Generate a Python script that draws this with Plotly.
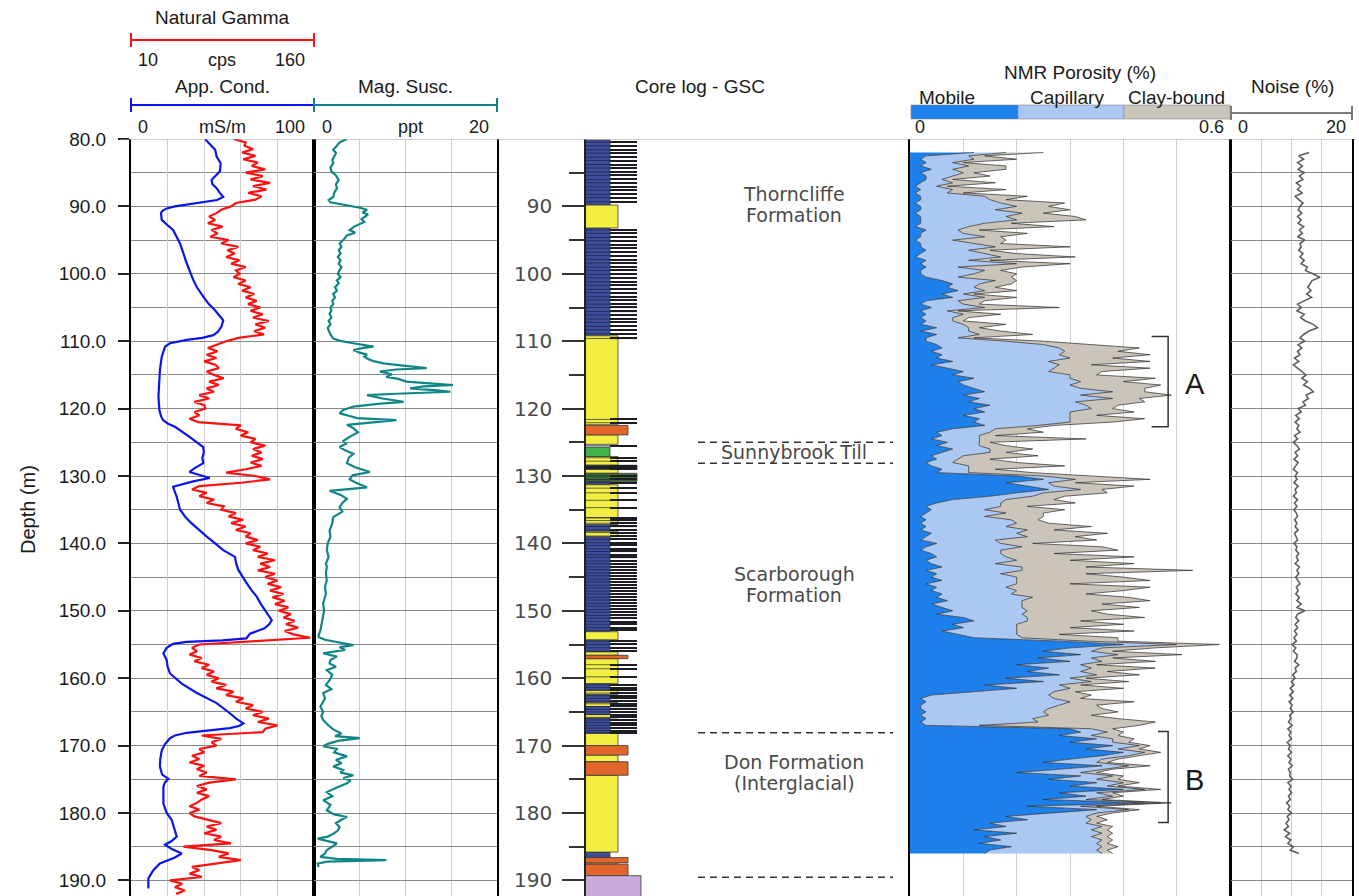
import plotly.graph_objects as go

# ---------------- DATA ----------------
# Apparent conductivity (mS/m) vs depth (m)
cond_log = [
    (80.0, 40.4), (81.0, 44), (81.6, 46), (82.6, 46.8), (83.6, 49), (84.8, 48.6), (85.5, 46), (86.1, 44),
    (86.7, 44.5), (87.3, 46.8), (88.0, 48.5), (88.6, 50.4), (89.05, 47), (89.5, 36), (90.0, 24), (90.3, 19.5),
    (90.7, 17), (91.0, 16.4), (92.0, 16.8), (92.8, 20), (93.5, 23), (95.5, 26.8), (97.0, 28.5), (98.4, 30.4),
    (100.9, 34), (102.0, 36), (103.4, 39.5), (104.5, 42.5), (105.4, 45.9), (106.2, 48.5), (106.9, 50.4),
    (107.8, 49.5), (108.6, 47.5), (109.1, 45), (109.5, 39), (109.8, 30.4), (110.3, 21.3), (110.8, 18.6),
    (112.3, 16.8), (114.3, 15.8), (116.2, 15.5), (118.2, 15), (120.2, 15.5), (121.2, 16.5), (121.7, 17.5),
    (122.2, 20), (122.7, 24), (123.5, 28.5), (124.2, 32), (125.0, 36), (125.7, 39.5), (126.5, 39.8),
    (127.3, 39), (128.1, 39.5), (128.8, 35), (129.4, 32), (129.9, 38), (130.3, 43), (130.8, 34), (131.3, 26),
    (131.6, 23), (132.4, 24), (133.1, 25), (135.0, 26.8), (136.0, 29.5), (137.0, 33), (138.0, 37), (139.0, 41.4),
    (140.0, 46), (141.0, 50.4), (142.0, 56.8), (143.0, 57.5), (143.9, 58.6), (145.0, 61), (145.9, 63.2),
    (147.0, 66), (147.9, 68.7), (149.0, 71), (149.9, 73.2), (150.7, 75.5), (151.4, 76.9), (152.0, 75.5),
    (152.6, 73), (153.0, 69), (153.4, 65), (154.1, 63), (154.4, 50), (154.6, 30.4), (154.9, 23), (155.5, 19.5),
    (156.3, 17.7), (157.3, 19.5), (158.3, 20), (159.3, 21.3), (160.8, 27.7), (162.2, 36), (163.7, 46.8),
    (165.2, 54), (166.0, 57.5), (166.7, 61.4), (167.1, 59), (167.4, 54), (167.8, 42), (168.1, 30.4), (168.5, 24),
    (168.9, 21.3), (169.8, 18.5), (170.7, 16.8), (172.0, 16), (173.1, 15.8), (174.3, 17), (174.9, 20.4),
    (175.5, 18.5), (176.1, 17.7), (178.6, 17.7), (180.0, 19.5), (181.0, 22.2), (182.3, 23.5), (183.5, 25),
    (184.2, 22), (184.7, 18.6), (185.3, 22), (186.0, 27.7), (186.6, 24), (187.1, 19), (187.5, 15.8),
    (188.5, 12.2), (189.7, 9.5), (191.2, 9.5),
]
cond_depth = [d for d, v in cond_log]
cond_value = [v for d, v in cond_log]

# Natural gamma (cps), every 0.5 m from 80.0 m
gamma_start = 80.0
gamma_cps = [
    94, 104, 103, 110, 101, 112, 102, 114, 109, 120,
    104, 118, 108, 124, 110, 121, 106, 117, 112, 96,
    92, 84, 80, 74, 79, 73, 85, 76, 81, 75,
    90, 84, 98, 89, 95, 88, 99, 92, 104, 96,
    99, 94, 104, 98, 108, 101, 111, 104, 113, 106,
    116, 108, 118, 110, 123, 112, 120, 111, 119, 98,
    88, 80, 73, 81, 72, 80, 70, 79, 82, 72,
    78, 86, 74, 82, 72, 78, 66, 74, 62, 70,
    71, 62, 66, 58, 65, 100, 96, 106, 100, 112,
    108, 120, 110, 117, 109, 118, 108, 117, 104, 88,
    112, 124, 100, 66, 60, 72, 66, 78, 72, 86,
    84, 96, 90, 102, 92, 104, 96, 108, 104, 114,
    104, 116, 110, 122, 114, 128, 116, 124, 114, 128,
    120, 130, 122, 133, 124, 135, 126, 136, 128, 139,
    131, 141, 135, 144, 137, 147, 136, 143, 157, 112,
    66, 60, 64, 58, 68, 62, 74, 68, 78, 72,
    82, 76, 88, 80, 94, 88, 102, 96, 110, 104,
    118, 110, 123, 114, 130, 120, 118, 68, 84, 76,
    80, 66, 70, 60, 66, 58, 70, 64, 72, 66,
    96, 74, 64, 72, 64, 74, 68, 64, 58, 66,
    58, 62, 72, 84, 72, 80, 70, 84, 78, 92,
    53, 76, 90, 82, 100, 80, 60, 66, 58, 68,
    42, 52, 46, 54, 47,
]
gamma_depth = [gamma_start + 0.5 * i for i in range(len(gamma_cps))]

# Magnetic susceptibility (ppt)
mag_log = [
    (80.0, 3.6), (80.5, 2.8), (81.0, 2.5), (81.6, 2.1), (82.1, 2.4), (82.6, 2.2), (83.1, 2.0), (83.6, 2.1),
    (84.2, 1.8), (84.8, 1.9), (85.4, 2.4), (86.1, 2.7), (86.7, 2.4), (87.3, 2.5), (88.0, 2.2), (88.6, 2.1),
    (89.05, 1.6), (89.4, 1.8), (89.8, 3.6), (90.2, 5.0), (90.5, 5.8), (90.9, 5.3), (91.2, 5.9), (91.5, 5.6),
    (91.9, 5.2), (92.3, 5.5), (92.6, 5.0), (93.0, 4.4), (93.5, 3.9), (93.9, 4.5), (94.3, 3.6), (95.0, 3.2),
    (95.5, 2.8), (96.0, 3.0), (96.5, 2.7), (97.0, 2.9), (97.5, 2.6), (98.0, 2.9), (98.5, 2.7), (99.0, 3.0),
    (99.4, 2.8), (100.0, 2.6), (100.5, 2.9), (101.0, 2.5), (101.4, 2.7), (102.0, 2.3), (102.5, 2.5),
    (103.0, 2.1), (103.5, 2.3), (104.0, 2.0), (104.5, 2.1), (105.0, 1.8), (105.5, 1.9), (105.9, 1.7),
    (106.5, 1.9), (107.0, 1.6), (107.5, 1.8), (108.0, 1.5), (108.4, 1.6), (109.0, 1.8), (109.6, 2.1),
    (110.0, 3.0), (110.3, 4.3), (110.8, 6.5), (111.0, 5.4), (111.3, 4.3), (111.7, 5.0), (112.0, 5.8),
    (112.3, 5.5), (112.7, 6.0), (113.0, 6.6), (113.3, 7.6), (113.6, 9.5), (114.0, 12.3), (114.2, 9.0),
    (114.5, 7.2), (114.9, 8.5), (115.3, 7.9), (115.6, 9.2), (116.0, 10.1), (116.3, 13.0), (116.5, 15.2),
    (116.7, 12.0), (117.0, 10.5), (117.3, 13.5), (117.5, 14.9), (117.8, 9.0), (118.0, 5.8), (118.5, 7.5),
    (119.0, 9.8), (119.3, 7.0), (119.7, 4.3), (120.2, 3.2), (120.7, 2.8), (121.1, 3.9), (121.4, 4.7),
    (121.7, 9.0), (122.0, 6.5), (122.4, 3.6), (122.9, 4.3), (123.5, 4.8), (124.2, 3.9), (124.8, 3.2),
    (125.2, 3.5), (125.7, 2.8), (126.2, 3.4), (126.7, 4.3), (127.3, 3.8), (128.1, 3.6), (128.7, 4.5),
    (129.4, 6.1), (129.9, 4.2), (130.5, 3.9), (131.0, 4.6), (131.7, 5.8), (132.2, 1.7), (132.8, 2.9),
    (133.4, 3.6), (134.0, 3.1), (134.6, 2.8), (135.3, 3.1), (136.1, 2.1), (137.0, 2.0), (138.1, 1.7),
    (139.0, 1.8), (140.0, 1.5), (141.0, 1.4), (142.0, 1.6), (143.0, 1.3), (143.4, 1.4), (144.5, 1.3),
    (145.5, 1.4), (146.4, 1.2), (147.5, 1.3), (148.9, 1.0), (150.0, 1.1), (151.4, 0.9), (152.9, 0.7),
    (153.6, 0.5), (153.9, 0.5), (154.3, 1.2), (154.6, 2.5), (155.1, 4.3), (155.4, 2.8), (155.8, 3.4),
    (156.3, 1.0), (156.8, 2.5), (157.3, 1.8), (157.8, 1.7), (158.3, 2.4), (158.8, 1.4), (159.5, 2.0),
    (160.3, 1.7), (161.0, 1.3), (161.6, 1.9), (162.2, 1.0), (163.0, 1.2), (164.2, 0.7), (165.0, 1.0),
    (165.6, 0.8), (166.2, 1.0), (166.9, 1.5), (167.6, 2.1), (168.2, 3.0), (168.6, 2.3), (168.9, 5.0),
    (169.3, 2.6), (169.7, 1.6), (170.1, 1.0), (170.5, 2.5), (171.0, 2.2), (171.6, 3.6), (172.1, 2.4),
    (172.6, 3.0), (173.1, 2.1), (173.6, 3.2), (174.0, 2.9), (174.4, 4.3), (174.8, 3.2), (175.2, 4.0),
    (175.6, 3.6), (176.2, 2.5), (176.9, 1.4), (177.5, 2.0), (178.1, 1.0), (178.8, 1.8), (179.6, 1.4),
    (180.2, 2.2), (180.6, 3.6), (181.0, 3.0), (181.5, 2.4), (182.1, 2.8), (182.6, 2.6), (183.1, 2.1),
    (183.5, 1.5), (183.8, 0.4), (184.2, 1.6), (184.5, 2.5), (185.0, 2.0), (185.5, 1.4), (186.0, 1.2),
    (186.5, 0.7), (186.8, 2.5), (187.0, 7.9), (187.2, 1.5), (187.5, 0.4), (188.0, 0.5),
]
mag_depth = [d for d, v in mag_log]
mag_ppt = [v for d, v in mag_log]

# NMR porosity components (fraction), every 0.5 m from 82.0 m
nmr_start = 82.0
nmr_mobile = [
    .12, .03, .02, .03, .02, .04, .02, .03, .03, .02,
    .01, .02, .01, .02, .02, .01, .02, .02, .01, .02,
    .02, .02, .01, .03, .02, .02, .01, .02, .02, .03,
    .02, .01, .03, .02, .03, .02, .02, .03, .06, .08,
    .07, .09, .06, .08, .03, .02, .04, .02, .03, .02,
    .03, .02, .05, .02, .05, .03, .03, .05, .06, .04,
    .06, .05, .08, .04, .07, .10, .08, .12, .09, .10,
    .12, .14, .10, .13, .11, .15, .12, .14, .10, .13,
    .12, .14, .08, .05, .06, .04, .07, .05, .08, .06,
    .04, .05, .03, .04, .06, .05, .20, .25, .18, .22,
    .26, .20, .15, .08, .05, .03, .04, .03, .02, .03,
    .02, .03, .02, .04, .03, .02, .05, .03, .02, .04,
    .05, .03, .04, .06, .03, .05, .04, .06, .03, .05,
    .04, .06, .05, .07, .04, .06, .08, .05, .10, .12,
    .08, .10, .06, .09, .12, .28, .40, .30, .25, .32,
    .24, .30, .20, .26, .22, .28, .18, .25, .14, .20,
    .12, .04, .02, .03, .02, .02, .03, .02, .03, .02,
    .03, .30, .32, .28, .35, .30, .38, .33, .40, .36,
    .30, .25, .36, .28, .20, .32, .26, .35, .30, .40,
    .28, .33, .25, .44, .22, .35, .27, .18, .22, .15,
    .18, .12, .20, .14, .17, .13, .19, .15, .14,
]
nmr_capillary = [
    .06, .08, .10, .05, .09, .04, .08, .05, .03, .06,
    .04, .06, .06, .12, .13, .16, .18, .14, .20, .16,
    .18, .12, .10, .06, .08, .12, .07, .10, .14, .08,
    .12, .16, .08, .18, .06, .12, .10, .06, .10, .05,
    .05, .05, .04, .06, .06, .08, .10, .05, .07, .06,
    .05, .08, .06, .09, .08, .06, .15, .20, .22, .25,
    .22, .25, .18, .24, .20, .16, .22, .18, .23, .20,
    .20, .24, .22, .25, .20, .18, .22, .16, .20, .17,
    .18, .10, .08, .10, .07, .09, .06, .08, .07, .09,
    .06, .04, .05, .07, .05, .06, .05, .06, .08, .05,
    .06, .05, .08, .10, .12, .14, .10, .15, .12, .16,
    .18, .15, .20, .16, .19, .14, .12, .18, .15, .13,
    .13, .17, .12, .15, .18, .12, .16, .14, .17, .13,
    .16, .13, .18, .14, .17, .15, .14, .16, .12, .10,
    .12, .10, .14, .11, .09, .05, .10, .06, .09, .07,
    .10, .06, .12, .08, .10, .07, .12, .09, .14, .10,
    .15, .22, .25, .27, .26, .24, .22, .24, .20, .22,
    .10, .04, .05, .06, .03, .08, .05, .06, .04, .05,
    .06, .10, .05, .08, .12, .06, .09, .05, .07, .04,
    .07, .05, .08, .03, .10, .06, .08, .15, .12, .18,
    .18, .22, .16, .20, .19, .22, .17, .20, .22,
]
nmr_claybound = [
    .07, .03, .08, .02, .07, .10, .02, .07, .02, .08,
    .02, .10, .03, .08, .03, .12, .06, .14, .04, .13,
    .13, .05, .16, .04, .12, .03, .10, .05, .14, .04,
    .06, .14, .04, .10, .12, .03, .08, .10, .04, .06,
    .04, .06, .02, .06, .05, .03, .14, .02, .07, .03,
    .02, .08, .02, .06, .10, .03, .07, .10, .15, .10,
    .17, .08, .19, .06, .18, .10, .05, .16, .08, .17,
    .12, .06, .17, .05, .13, .06, .04, .12, .05, .14,
    .08, .03, .06, .10, .03, .20, .02, .05, .08, .03,
    .14, .06, .12, .18, .05, .12, .08, .14, .05, .15,
    .04, .12, .06, .09, .14, .05, .15, .07, .11, .05,
    .06, .16, .05, .17, .09, .19, .06, .15, .22, .10,
    .24, .10, .26, .12, .32, .16, .20, .25, .10, .27,
    .20, .14, .18, .24, .15, .22, .12, .16, .22, .10,
    .20, .10, .22, .08, .18, .06, .08, .10, .04, .12,
    .04, .10, .03, .12, .05, .08, .03, .07, .04, .10,
    .04, .08, .05, .12, .07, .10, .14, .08, .16, .22,
    .30, .04, .03, .05, .04, .03, .02, .04, .03, .02,
    .03, .02, .04, .02, .03, .02, .04, .03, .02, .03,
    .03, .02, .03, .02, .03, .02, .03, .02, .03, .02,
    .02, .03, .02, .03, .02, .02, .03, .02, .02,
]
nmr_depth = [nmr_start + 0.5 * i for i in range(len(nmr_mobile))]

# Noise (%), every 0.5 m from 82.0 m
noise_pct = [
    12.9, 11.2, 12.0, 11.0, 11.8, 11.1, 12.1, 11.3, 11.9, 10.8,
    11.5, 11.0, 11.8, 10.6, 11.2, 11.9, 11.4, 11.1, 11.7, 11.0,
    11.6, 11.1, 12.0, 11.3, 11.8, 11.0, 12.2, 11.4, 11.6, 11.2,
    11.9, 11.4, 12.1, 11.6, 12.6, 12.3, 13.5, 14.7, 13.4, 13.1,
    12.7, 13.2, 12.5, 13.3, 12.2, 11.0, 11.6, 10.9, 12.1, 11.5,
    12.3, 13.6, 14.3, 12.9, 12.0, 11.4, 12.2, 11.1, 11.7, 11.0,
    11.4, 10.5, 11.2, 10.3, 11.0, 11.8, 12.4, 11.7, 12.6, 12.0,
    13.0, 13.6, 12.4, 12.8, 11.9, 12.3, 11.1, 11.6, 10.7, 11.3,
    10.6, 11.2, 10.9, 11.4, 10.5, 11.0, 10.3, 10.9, 11.3, 10.6,
    11.0, 10.4, 11.1, 10.7, 10.3, 11.0, 10.6, 10.9, 10.4, 11.1,
    10.6, 10.8, 10.3, 11.0, 10.5, 10.9, 10.4, 10.8, 11.0, 10.5,
    10.9, 10.6, 11.1, 10.5, 10.8, 11.0, 10.4, 10.9, 10.7, 11.2,
    10.8, 11.1, 10.6, 11.3, 10.9, 11.2, 10.7, 11.0, 11.4, 10.8,
    11.1, 10.7, 11.3, 10.9, 11.6, 10.9, 12.2, 11.0, 10.7, 11.2,
    10.6, 11.0, 10.5, 10.9, 10.4, 10.8, 10.1, 10.7, 10.3, 10.9,
    10.9, 10.5, 11.2, 10.6, 10.8, 10.2, 10.6, 10.0, 10.4, 9.8,
    10.3, 9.7, 10.2, 9.6, 10.1, 9.8, 10.3, 9.7, 9.9, 9.5,
    10.1, 9.4, 9.9, 9.6, 10.0, 9.3, 9.8, 9.5, 10.0, 9.4,
    9.9, 9.6, 10.1, 9.5, 9.8, 9.7, 10.2, 9.4, 9.9, 9.6,
    10.0, 9.5, 9.8, 9.2, 9.7, 9.4, 10.0, 9.3, 9.6, 9.1,
    9.5, 8.8, 9.7, 9.0, 9.9, 9.4, 10.3, 9.8, 11.2,
]
noise_depth = [nmr_start + 0.5 * i for i in range(len(noise_pct))]

# Core log (GSC): interval top, base, lithology
core_log = [
    (80.15, 89.8, "clay"), (89.8, 93.2, "sand"), (93.2, 109.2, "clay"), (109.2, 122.4, "sand"),
    (122.5, 123.9, "gravel"), (123.9, 125.3, "sand"), (125.7, 127.1, "till"), (127.1, 128.4, "sand"),
    (128.4, 129.0, "black"), (129.0, 129.6, "sand"), (129.6, 130.8, "darkgreen"), (130.8, 131.3, "clay"),
    (131.3, 136.2, "sand"), (136.2, 137.2, "sand"), (137.2, 138.2, "clay"), (138.2, 139.0, "sand"),
    (139.0, 153.1, "clay"), (153.1, 154.3, "sand"), (154.3, 156.1, "clay"), (156.1, 156.6, "sand"),
    (156.6, 157.1, "gravel"), (157.1, 160.8, "sand"), (160.8, 161.8, "clay"), (161.8, 162.4, "sand"),
    (162.4, 163.6, "clay"), (163.6, 164.2, "sand"), (164.2, 165.4, "clay"), (165.4, 165.9, "sand"),
    (165.9, 168.2, "clay"), (168.2, 170.0, "sand"), (170.0, 171.4, "gravel"), (171.4, 172.4, "sand"),
    (172.4, 174.4, "gravel"), (174.4, 185.8, "sand"), (185.8, 186.6, "clay"), (186.6, 187.4, "gravel"),
    (187.4, 187.6, "sand"), (187.6, 189.3, "gravel"), (189.3, 192.4, "bedrock"),
]
# laminations (m)
lamination_depth = [
    80.5, 81.0, 81.6, 82.1, 82.7, 83.2, 83.8, 84.3, 84.9, 85.4, 86.0, 86.5, 87.1, 87.6, 88.2, 88.7, 89.3,
    93.5, 94.0, 94.6, 95.1, 95.7, 96.2, 96.8, 97.3, 97.9, 98.4, 99.0, 99.5, 100.1, 100.6, 101.2, 101.7,
    102.3, 102.8, 103.4, 103.9, 104.5, 105.0, 105.6, 106.1, 106.7, 107.2, 107.8, 108.3, 108.9, 109.6,
    121.6, 122.1, 125.5, 127.3, 127.8, 128.6, 128.9, 130.0, 130.5, 131.0, 131.8, 132.5, 133.6, 134.7, 136.2,
    136.6, 137.0, 137.5, 138.0, 138.4, 138.9, 139.4, 139.9, 140.3, 140.8, 141.2, 141.7, 142.1, 142.6, 143.0,
    143.5, 143.9, 144.4, 144.8, 145.3, 145.7, 146.2, 146.6, 147.1, 147.5, 148.0, 148.4, 148.9, 149.3, 149.8,
    150.2, 150.7, 151.1, 151.6, 152.0, 152.5, 152.9, 154.5, 155.0, 155.5, 156.0, 158.0, 158.6, 159.8,
    161.0, 161.4, 161.8, 162.2, 162.6, 163.0, 163.4, 163.8, 164.2, 164.6, 165.0, 165.4, 165.8, 166.2,
    166.6, 167.0, 167.4, 167.8, 168.1,
]
formation_boundary = [125.0, 128.1, 168.1, 189.55]
formation_text = ["Thorncliffe", "Formation", "Sunnybrook Till", "Scarborough", "Formation",
                  "Don Formation", "(Interglacial)"]
formation_text_depth = [88.2, 91.3, 126.5, 144.6, 147.7, 172.5, 175.6]
core_depth_ticks = [90, 100, 110, 120, 130, 140, 150, 160, 170, 180, 190]
core_minor_ticks = [85, 95, 105, 115, 125, 135, 145, 155, 165, 175, 185]
depth_ticks = [80, 90, 100, 110, 120, 130, 140, 150, 160, 170, 180, 190]
depth_minor = [85, 95, 105, 115, 125, 135, 145, 155, 165, 175, 185]

# NMR zone brackets
bracket_label = ["A", "B"]
bracket_top = [109.3, 167.9]
bracket_base = [122.7, 181.4]

# ---------------- STYLE / LAYOUT ----------------
W, H = 1359, 896
FONT = "Liberation Sans, Arial, sans-serif"
CORE_FONT = "DejaVu Sans, sans-serif"
TXT = "#1a1a1a"
GRID_H = "#8a8a8a"
GRID_V = "#cfcfcf"

def fx(p):
    return p / W

def fy(p):
    return 1 - p / H

TOP_PX = 139
PX_PER_M = 6.74
depth_top = 80.0
depth_bottom = depth_top + (H - TOP_PX) / PX_PER_M
yrange = [depth_bottom, depth_top]
ydom = [0, fy(TOP_PX)]

C_COND = "#0a14ee"
C_GAMMA = "#ff1010"
C_MAG = "#0f8585"
C_NOISE = "#5e5e5e"
C_MOBILE = "#1e80ea"
C_CAP = "#aac8f2"
C_CLAY = "#cbc4ba"

lith_style = {
    "clay": ("#3f4e98", 25),
    "sand": ("#f2ee42", 33),
    "gravel": ("#e2652b", 43),
    "till": ("#3db34a", 25),
    "darkgreen": ("#3b6a34", 52),
    "black": ("#1e1e22", 52),
    "bedrock": ("#c9aadd", 56),
}
CLAY_W = 25
STRIPE_END = 52

fig = go.Figure()

# Track 1: conductivity + gamma
fig.add_trace(go.Scatter(x=cond_value, y=cond_depth, xaxis="x", yaxis="y", mode="lines",
                         line=dict(color=C_COND, width=2.2), hoverinfo="skip"))
fig.add_trace(go.Scatter(x=gamma_cps, y=gamma_depth, xaxis="x2", yaxis="y", mode="lines",
                         line=dict(color=C_GAMMA, width=2.2), hoverinfo="skip"))
# Track 2: magnetic susceptibility
fig.add_trace(go.Scatter(x=mag_ppt, y=mag_depth, xaxis="x3", yaxis="y2", mode="lines",
                         line=dict(color=C_MAG, width=2.2), hoverinfo="skip"))

# Track 3: core log
for lith, (color, w) in lith_style.items():
    sel = [(t, b) for t, b, l in core_log if l == lith]
    if not sel:
        continue
    fig.add_trace(go.Bar(orientation="h", y=[(t + b) / 2 for t, b in sel], x=[w] * len(sel),
                         width=[b - t for t, b in sel], base=0, xaxis="x4", yaxis="y3",
                         marker=dict(color=color, line=dict(color="#3a3a3a", width=0.8)),
                         hoverinfo="skip"))
# laminations: faint stripe inside the column, dark line to the right of it
fig.add_trace(go.Bar(orientation="h", y=lamination_depth, x=[CLAY_W] * len(lamination_depth),
                     width=0.13, base=0, xaxis="x4", yaxis="y3",
                     marker=dict(color="rgba(25,30,70,0.75)", line=dict(width=0)), hoverinfo="skip"))
fig.add_trace(go.Bar(orientation="h", y=lamination_depth, x=[STRIPE_END - CLAY_W] * len(lamination_depth),
                     width=0.17, base=CLAY_W, xaxis="x4", yaxis="y3",
                     marker=dict(color="#1c1c24", line=dict(width=0)), hoverinfo="skip"))
for d in formation_boundary:
    fig.add_trace(go.Scatter(x=[113, 308], y=[d, d], xaxis="x4", yaxis="y3", mode="lines",
                             line=dict(color="#333333", width=1.5, dash="7px,5px"), hoverinfo="skip"))

# Track 4: NMR porosity (stacked)
for vals, col in [(nmr_mobile, C_MOBILE), (nmr_capillary, C_CAP), (nmr_claybound, C_CLAY)]:
    fig.add_trace(go.Scatter(x=vals, y=nmr_depth, xaxis="x5", yaxis="y4", mode="lines",
                             stackgroup="nmr", orientation="h", fillcolor=col,
                             line=dict(color="#2a2a2a", width=0.7), hoverinfo="skip"))
for lab, t, b, tick in zip(bracket_label, bracket_top, bracket_base, [0.031, 0.019]):
    xb = 0.484
    fig.add_trace(go.Scatter(x=[xb - tick, xb, xb, xb - tick], y=[t, t, b, b], xaxis="x5", yaxis="y4",
                             mode="lines", line=dict(color="#333333", width=1.5), hoverinfo="skip"))
    fig.add_annotation(x=0.534, y=(t + b) / 2 + 0.4, xref="x5", yref="y4", text=lab, showarrow=False,
                       font=dict(family=FONT, size=29, color=TXT))

# Track 5: noise
fig.add_trace(go.Scatter(x=noise_pct, y=noise_depth, xaxis="x6", yaxis="y5", mode="lines",
                         line=dict(color=C_NOISE, width=1.6), hoverinfo="skip"))

# Formation labels
for txt, d in zip(formation_text, formation_text_depth):
    fig.add_annotation(x=209, y=d, xref="x4", yref="y3", text=txt, showarrow=False,
                       font=dict(family=CORE_FONT, size=19, color="#4a4a4a"))

# ---------- axes ----------
def xgrid(domain, rng, dtick, anchor):
    return dict(domain=domain, range=rng, anchor=anchor, showgrid=True, gridcolor=GRID_V, gridwidth=1,
                dtick=dtick, tick0=0, showticklabels=False, ticks="", zeroline=False, showline=False,
                fixedrange=True, automargin=False)

layout = dict(
    width=W, height=H, autosize=False,
    margin=dict(l=0, r=0, t=0, b=0, pad=0, autoexpand=False),
    paper_bgcolor="white", plot_bgcolor="rgba(0,0,0,0)", showlegend=False, barmode="overlay",
    font=dict(family=FONT, color=TXT),
    xaxis=xgrid([fx(131), fx(314)], [0, 100], 20, "y"),
    xaxis2=dict(overlaying="x", range=[10, 160], anchor="y", visible=False, automargin=False),
    xaxis3=xgrid([fx(314), fx(497)], [0, 20], 5, "y2"),
    xaxis4=dict(domain=[fx(497), fx(908)], range=[-88, 323], anchor="y3", visible=False, automargin=False),
    xaxis5=xgrid([fx(910), fx(1230)], [0, 0.6], 0.1, "y4"),
    xaxis6=xgrid([fx(1231), fx(1352)], [0, 20], 5, "y5"),
    yaxis=dict(domain=ydom, range=yrange, anchor="x", showline=True, mirror=True, linecolor="black",
               linewidth=2, ticks="outside", ticklen=11, tickwidth=1.5, tickcolor="#222",
               tickmode="array", tickvals=depth_ticks, ticktext=["%.1f" % v for v in depth_ticks],
               ticklabelstandoff=8, tickfont=dict(family=FONT, size=19, color=TXT), automargin=False,
               showgrid=True, gridcolor=GRID_H, gridwidth=1.3, zeroline=False,
               minor=dict(tickmode="array", tickvals=depth_minor, ticks="",
                          showgrid=True, gridcolor=GRID_H, gridwidth=1.3)),
    yaxis2=dict(domain=ydom, matches="y", anchor="x3", showline=True, mirror=True, linecolor="black",
                linewidth=2, showticklabels=False, ticks="", showgrid=True, gridcolor=GRID_H,
                gridwidth=1.3, dtick=5, tick0=0, zeroline=False, automargin=False),
    yaxis3=dict(domain=ydom, matches="y", anchor="free", position=fx(585), side="left", showline=True,
                linecolor="#222", linewidth=1.5, ticks="outside", ticklen=22, tickwidth=1.8,
                tickcolor="#333", tickmode="array", tickvals=core_depth_ticks,
                ticktext=[str(v) for v in core_depth_ticks], ticklabelstandoff=6, automargin=False,
                tickfont=dict(family=CORE_FONT, size=20, color="#4a4a4a"), showgrid=False, zeroline=False,
                minor=dict(tickmode="array", tickvals=core_minor_ticks, ticks="outside", ticklen=15,
                           tickwidth=1.8, tickcolor="#333", showgrid=False)),
    yaxis4=dict(domain=ydom, matches="y", anchor="x5", showline=True, mirror=True, linecolor="black",
                linewidth=2, showticklabels=False, ticks="", showgrid=False, zeroline=False, automargin=False),
    yaxis5=dict(domain=ydom, matches="y", anchor="x6", showline=True, mirror=True, linecolor="black",
                linewidth=2, showticklabels=False, ticks="", showgrid=True, gridcolor=GRID_H,
                gridwidth=1.3, dtick=5, tick0=0, zeroline=False, automargin=False),
)
fig.update_layout(**layout)

# ---------- header decorations ----------
shapes = []

def pline(x0, y0, x1, y1, color, w=2):
    shapes.append(dict(type="line", xref="paper", yref="paper", x0=fx(x0), y0=fy(y0), x1=fx(x1),
                       y1=fy(y1), line=dict(color=color, width=w)))

def scale_bar(x0, x1, y, color, cap=7):
    pline(x0, y, x1, y, color, 2)
    pline(x0, y - cap, x0, y + cap, color, 2)
    pline(x1, y - cap, x1, y + cap, color, 2)

scale_bar(131, 314, 40, C_GAMMA)
scale_bar(131, 314, 105, C_COND)
scale_bar(314, 497, 105, C_MAG)
scale_bar(1231, 1352, 113, "#7a7a7a")
for x0, x1, col in [(911, 1018, C_MOBILE), (1018, 1124, C_CAP), (1124, 1230, C_CLAY)]:
    shapes.append(dict(type="rect", xref="paper", yref="paper", x0=fx(x0), x1=fx(x1), y0=fy(119), y1=fy(105),
                       fillcolor=col, line=dict(color="#8a8a8a", width=0.6)))
# top line at 80 m
shapes.append(dict(type="line", xref="paper", yref="y", x0=fx(120), x1=fx(1352), y0=depth_top, y1=depth_top,
                   line=dict(color="#a0a0a0", width=1.2)))
fig.update_layout(shapes=shapes)

def label(text, x, y, size=19, color=TXT, **kw):
    fig.add_annotation(x=fx(x), y=fy(y), xref="paper", yref="paper", text=text, showarrow=False,
                       xanchor="center", yanchor="middle", font=dict(family=FONT, size=size, color=color), **kw)

label("Natural Gamma", 222, 17)
label("10", 148, 60, 18)
label("cps", 222, 60, 18)
label("160", 290, 60, 18)
label("App. Cond.", 222, 86)
label("Mag. Susc.", 405, 86)
label("0", 143, 127, 18)
label("mS/m", 223, 127, 18)
label("100", 290, 127, 18)
label("0", 327, 127, 18)
label("ppt", 410, 127, 18)
label("20", 479, 127, 18)
label("Core log - GSC", 700, 86)
label("NMR Porosity (%)", 1080, 72)
label("Mobile", 947, 97)
label("Capillary", 1067, 97)
label("Clay-bound", 1176, 97)
label("0", 920, 127, 18)
label("0.6", 1211, 127, 18)
label("Noise (%)", 1292, 86)
label("0", 1243, 127, 18)
label("20", 1336, 127, 18)
label("Depth (m)", 28, 510, 20, textangle=-90)

fig.write_html("out.html", config={"displayModeBar": False},
               post_script="document.body.style.margin='0px';document.body.style.overflow='hidden';")
